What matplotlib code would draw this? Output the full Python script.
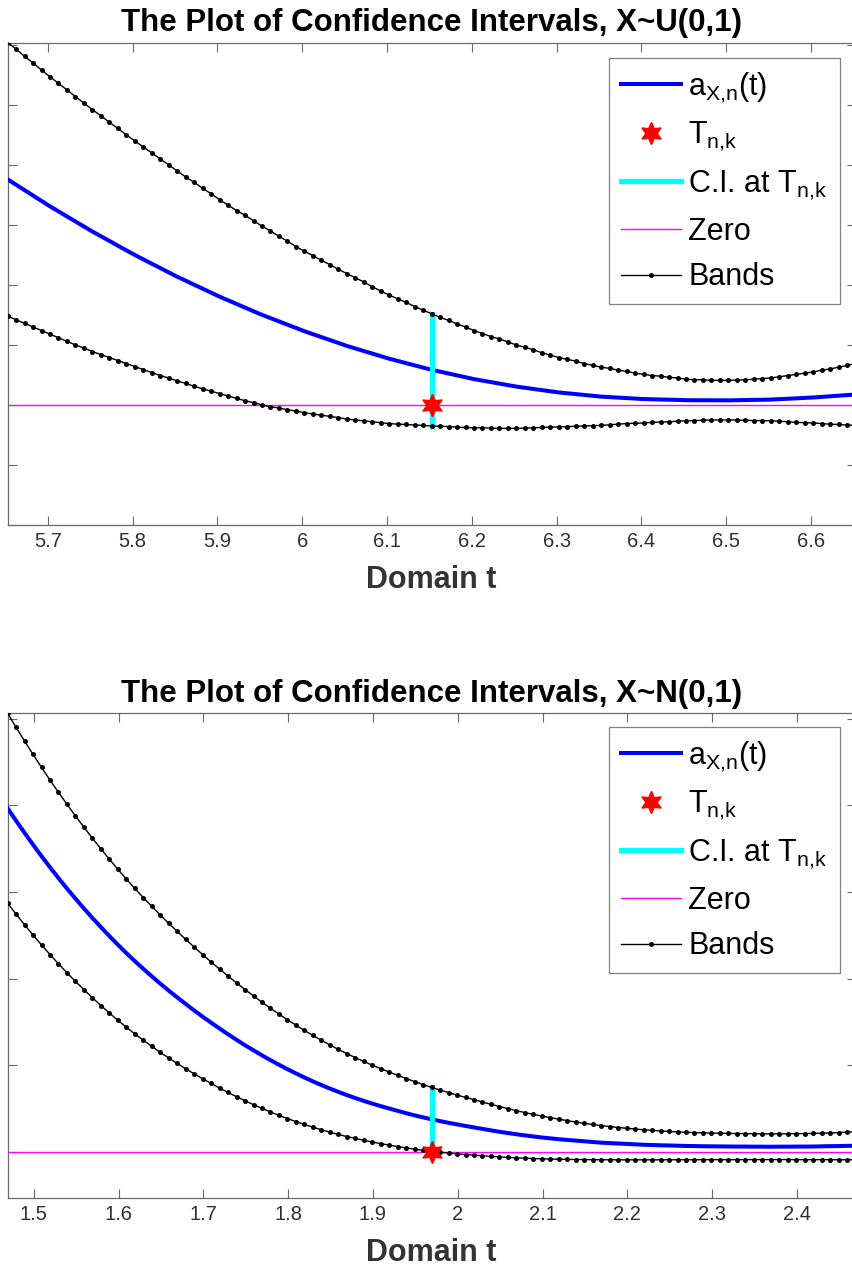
import numpy as np
import matplotlib
matplotlib.use("Agg")
import matplotlib.pyplot as plt

plt.rcParams['font.family'] = ['Liberation Sans', 'DejaVu Sans']
plt.rcParams['mathtext.fontset'] = 'custom'
plt.rcParams['mathtext.rm'] = 'Liberation Sans'
plt.rcParams['mathtext.it'] = 'Liberation Sans'

# ---------------- data: X~U(0,1) ----------------
T_top = 6.1526
ticks_top = [5.7, 5.8, 5.9, 6.0, 6.1, 6.2, 6.3, 6.4, 6.5, 6.6]
ticklabels_top = ['5.7', '5.8', '5.9', '6', '6.1', '6.2', '6.3', '6.4', '6.5', '6.6']
a_top = [3.760,3.670,3.580,3.490,3.400, 3.310,3.226,3.142,3.058,2.974, 2.890,2.812,2.734,2.655,2.577,
         2.499,2.427,2.354,2.282,2.209, 2.137,2.071,2.004,1.938,1.871, 1.805,1.744,1.684,1.623,1.562,
         1.502,1.447,1.393,1.338,1.284, 1.229,1.180,1.131,1.083,1.034, 0.985,0.942,0.899,0.857,0.814,
         0.771,0.734,0.697,0.660,0.623, 0.586,0.555,0.524,0.493,0.462, 0.431,0.406,0.381,0.356,0.331,
         0.306,0.287,0.267,0.248,0.228, 0.209,0.195,0.181,0.167,0.153, 0.139,0.131,0.123,0.115,0.107,
         0.099,0.095,0.091,0.088,0.084, 0.080,0.079,0.079,0.078,0.078, 0.077,0.080,0.082,0.085,0.087,
         0.090,0.097,0.104,0.111,0.118, 0.125,0.135,0.145,0.155,0.165, 0.175]
up_top = [6.04,5.93,5.81,5.70,5.58, 5.47,5.36,5.25,5.14,5.03, 4.92,4.82,4.71,4.61,4.50,
          4.40,4.30,4.20,4.10,4.00, 3.90,3.80,3.71,3.61,3.52, 3.42,3.33,3.24,3.16,3.07,
          2.98,2.90,2.81,2.73,2.64, 2.56,2.49,2.41,2.34,2.26, 2.19,2.12,2.05,1.97,1.90,
          1.83,1.77,1.71,1.64,1.58, 1.52,1.46,1.41,1.35,1.30, 1.24,1.19,1.14,1.10,1.05,
          1.00,0.96,0.92,0.87,0.83, 0.79,0.76,0.73,0.69,0.66, 0.63,0.61,0.58,0.56,0.53,
          0.51,0.49,0.48,0.46,0.45, 0.43,0.42,0.42,0.41,0.41, 0.41,0.415,0.42,0.43,0.44,
          0.45,0.47,0.49,0.51,0.53, 0.55,0.58,0.60,0.63,0.66, 0.69]
lo_top = [1.48,1.42,1.36,1.30,1.24, 1.18,1.12,1.06,1.00,0.95, 0.89,0.84,0.79,0.74,0.69,
          0.64,0.59,0.54,0.49,0.45, 0.40,0.36,0.31,0.27,0.23, 0.19,0.15,0.11,0.07,0.04,
          0.00,-0.03,-0.05,-0.08,-0.10, -0.13,-0.15,-0.17,-0.19,-0.21,
          -0.235,-0.25,-0.265,-0.28,-0.295, -0.31,-0.32,-0.325,-0.335,-0.34,
          -0.35,-0.355,-0.36,-0.37,-0.375, -0.38,-0.38,-0.385,-0.39,-0.39,
          -0.39,-0.385,-0.38,-0.375,-0.37, -0.365,-0.36,-0.355,-0.35,-0.345,
          -0.34,-0.33,-0.32,-0.31,-0.305, -0.30,-0.29,-0.285,-0.28,-0.27,
          -0.265,-0.26,-0.255,-0.25,-0.25, -0.25,-0.25,-0.255,-0.26,-0.26,
          -0.265,-0.27,-0.28,-0.29,-0.295, -0.30,-0.31,-0.32,-0.325,-0.335, -0.34]

# ---------------- data: X~N(0,1) ----------------
T_bot = 1.9692
ticks_bot = [1.5, 1.6, 1.7, 1.8, 1.9, 2.0, 2.1, 2.2, 2.3, 2.4]
ticklabels_bot = ['1.5', '1.6', '1.7', '1.8', '1.9', '2', '2.1', '2.2', '2.3', '2.4']
a_bot = [3.965,3.821,3.681,3.545,3.412, 3.284,3.160,3.039,2.923,2.809, 2.700,2.594,2.491,2.391,2.295,
         2.202,2.113,2.027,1.943,1.862, 1.784,1.708,1.633,1.561,1.492, 1.424,1.358,1.294,1.232,1.173,
         1.115,1.060,1.007,0.956,0.907, 0.860,0.815,0.773,0.732,0.694, 0.657,0.623,0.590,0.559,0.530,
         0.502,0.475,0.448,0.423,0.400, 0.377,0.357,0.337,0.319,0.301, 0.284,0.267,0.250,0.234,0.219,
         0.205,0.192,0.180,0.168,0.158, 0.148,0.140,0.132,0.124,0.116, 0.108,0.103,0.098,0.094,0.089,
         0.084,0.081,0.078,0.076,0.073, 0.070,0.069,0.067,0.066,0.065, 0.064,0.063,0.063,0.062,0.062,
         0.061,0.062,0.062,0.063,0.063, 0.064,0.066,0.068,0.069,0.071, 0.073]
up_bot = [5.06,4.898,4.740,4.586,4.436, 4.29,4.148,4.011,3.877,3.746, 3.62,3.497,3.377,3.261,3.149,
          3.04,2.935,2.833,2.734,2.638, 2.545,2.453,2.364,2.277,2.192, 2.11,2.029,1.951,1.874,1.800,
          1.728,1.658,1.591,1.526,1.463, 1.403,1.345,1.289,1.235,1.184, 1.135,1.089,1.045,1.002,0.962,
          0.923,0.885,0.848,0.812,0.778, 0.745,0.715,0.686,0.657,0.630, 0.604,0.577,0.551,0.525,0.501,
          0.477,0.455,0.435,0.415,0.397, 0.379,0.362,0.346,0.331,0.318, 0.305,0.294,0.283,0.274,0.265,
          0.257,0.250,0.243,0.237,0.232, 0.228,0.224,0.221,0.219,0.217, 0.215,0.213,0.212,0.211,0.210,
          0.210,0.210,0.211,0.212,0.213, 0.215,0.217,0.220,0.224,0.229, 0.235]
lo_bot = [2.870,2.744,2.621,2.503,2.389, 2.278,2.171,2.068,1.969,1.873, 1.780,1.690,1.604,1.520,1.440,
          1.363,1.290,1.219,1.150,1.085, 1.022,0.961,0.902,0.845,0.791, 0.738,0.687,0.638,0.591,0.546,
          0.503,0.462,0.423,0.386,0.351, 0.318,0.287,0.257,0.229,0.203, 0.179,0.157,0.135,0.116,0.097,
          0.080,0.063,0.048,0.033,0.020, 0.008,-0.002,-0.012,-0.021,-0.029,
          -0.036,-0.043,-0.050,-0.056,-0.062, -0.067,-0.071,-0.075,-0.078,-0.081,
          -0.083,-0.085,-0.086,-0.087,-0.088, -0.089,-0.089,-0.090,-0.090,-0.090,
          -0.090,-0.090,-0.090,-0.089,-0.089, -0.089,-0.089,-0.088,-0.088,-0.088,
          -0.088,-0.088,-0.088,-0.087,-0.087, -0.087,-0.087,-0.087,-0.088,-0.088,
          -0.088,-0.088,-0.088,-0.089,-0.089, -0.089]

titles = ['The Plot of Confidence Intervals, X~U(0,1)',
          'The Plot of Confidence Intervals, X~N(0,1)']
legend_labels = [r'$\mathregular{a_{X{,}n}(t)}$', r'$\mathregular{T_{n{,}k}}$',
                 r'C.I. at $\mathregular{T_{n{,}k}}$', 'Zero', 'Bands']

W, H = 852, 1266
fig = plt.figure(figsize=(W / 100, H / 100), dpi=100)
fig.patch.set_facecolor('white')

SPINE = '#6b6b6b'
TXT = '#303030'
hexagram = (6, 1, 0)


def panel(rect, T, a, up, lo, yl, yt, xt, xtl, title, legtop):
    ax = fig.add_axes(rect)
    t = T - 0.5 + 0.01 * np.arange(len(a))
    i = len(a) // 2
    ax.plot(t, a, color=(0, 0, 1), lw=2.9, label=legend_labels[0], zorder=3,
            solid_joinstyle='round')
    ax.plot([T], [0], linestyle='none', marker=hexagram, ms=16, mfc='red', mec='red',
            label=legend_labels[1], zorder=6)
    ax.plot([T, T], [lo[i], up[i]], color=(0, 1, 1), lw=3.8,
            label=legend_labels[2], zorder=4)
    ax.axhline(0, color=(1, 0, 1), lw=1.0, label=legend_labels[3], zorder=2)
    ax.plot(t, up, color='black', lw=1.0, marker='o', ms=3.6, mec='none', mfc='black',
            label=legend_labels[4], zorder=5)
    ax.plot(t, lo, color='black', lw=1.0, marker='o', ms=3.6, mec='none', mfc='black', zorder=5)
    ax.set_xlim(T - 0.5, T + 0.5)
    ax.set_ylim(*yl)
    ax.set_yticks(yt)
    ax.set_xticks(xt)
    ax.set_xticklabels(xtl)
    ax.tick_params(direction='in', length=6.5, width=0.8, color=SPINE, top=True, right=True,
                   labelleft=False, labelsize=14.5, labelcolor=TXT, pad=5)
    for s in ax.spines.values():
        s.set_color(SPINE)
        s.set_linewidth(0.9)
    ax.set_title(title, fontsize=22.5, fontweight='bold', color='black', pad=8)
    ax.set_xlabel('Domain t', fontsize=22, fontweight='bold', color='#333333', labelpad=10)
    leg = ax.legend(loc='upper right', bbox_to_anchor=(840 / W, 1 - legtop / H),
                    bbox_transform=fig.transFigure, borderaxespad=0, fontsize=22,
                    frameon=True, fancybox=False, framealpha=1, edgecolor='#808080',
                    handlelength=1.95, handletextpad=0.25, borderpad=0.4, labelspacing=0.5,
                    numpoints=1)
    leg.get_frame().set_linewidth(0.9)
    return ax


panel([7.6 / W, 1 - 525 / H, 848 / W, 482.5 / H], T_top, a_top, up_top, lo_top,
      (-2.0, 6.04), list(range(-2, 7)), ticks_top, ticklabels_top, titles[0], 58)
panel([7.6 / W, 1 - 1198 / H, 848 / W, 484.7 / H], T_bot, a_bot, up_bot, lo_bot,
      (-0.53, 5.06), list(range(0, 6)), ticks_bot, ticklabels_bot, titles[1], 727)

fig.savefig('out.png', dpi=100, facecolor='white')
